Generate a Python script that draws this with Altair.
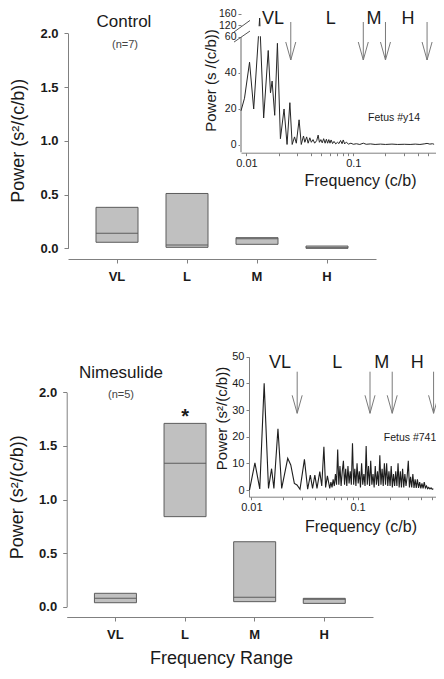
import altair as alt
import pandas as pd

FONT = "Liberation Sans"
INK = "#1a1a1a"
GRAY = "#808080"

# ---------------- data ----------------
categories = ["VL", "L", "M", "H"]
ctrl_q1 = [0.056, 0.009, 0.037, 0.000]
ctrl_med = [0.140, 0.030, 0.090, 0.005]
ctrl_q3 = [0.381, 0.510, 0.099, 0.021]
nime_q1 = [0.037, 0.840, 0.047, 0.031]
nime_med = [0.078, 1.337, 0.088, 0.069]
nime_q3 = [0.125, 1.710, 0.606, 0.078]

# Fetus #y14 spectrum (control inset)
top_freq = [0.0089, 0.0096, 0.0107, 0.0117, 0.0133, 0.0145, 0.0160, 0.0168, 0.0174, 0.0184,
            0.0195, 0.0208, 0.0225, 0.0240, 0.0255, 0.0268, 0.0282, 0.0293, 0.0311, 0.0326,
            0.0342, 0.0352, 0.0366, 0.0378, 0.0392, 0.0405, 0.0420, 0.0435, 0.0455, 0.0469,
            0.0482, 0.0497, 0.0512, 0.0528, 0.0545, 0.0560, 0.0575, 0.0590, 0.0605, 0.0620,
            0.0640, 0.0660, 0.0685, 0.0710, 0.0735, 0.0760, 0.0785, 0.0805, 0.0830, 0.0860,
            0.0900, 0.0950, 0.100, 0.107, 0.115, 0.124, 0.132, 0.145, 0.160, 0.180,
            0.200, 0.230, 0.260, 0.300, 0.340, 0.380, 0.420, 0.460, 0.490, 0.520,
            0.550, 0.570]
top_power = [19, 26, 46, 20, 146, 15, 52.5, 29, 35.5, 16.5,
             56.5, 3.5, 20, 0.3, 23.5, 0.3, 4.5, 1, 14, 0.3,
             5, 1.5, 4.5, 1, 4, 1.5, 3, 1, 2.5, 5.5,
             1.5, 3, 1.2, 3.5, 1, 3.2, 1, 3, 1, 2.8,
             0.8, 2, 0.6, 1.5, 0.8, 2.5, 0.7, 2.8, 0.6, 1.6,
             0.5, 1, 0.4, 0.7, 0.3, 1, 0.4, 0.6, 0.3, 0.5,
             0.3, 0.5, 0.3, 0.4, 0.3, 0.5, 0.3, 0.6, 0.9, 0.5,
             0.7, 0.4]

# Fetus #741 spectrum (nimesulide inset)
bot_freq = [0.0096, 0.0108, 0.0120, 0.0132, 0.0145, 0.0155, 0.0163, 0.0178, 0.0193, 0.0220,
            0.0235, 0.0254, 0.0269, 0.0287, 0.0316, 0.0339, 0.0359, 0.0377, 0.0396, 0.0415,
            0.0441, 0.0460, 0.0482, 0.0500, 0.0520,
            0.0547, 0.0561, 0.0575, 0.0589, 0.0604, 0.0619, 0.0634, 0.0650, 0.0666, 0.0683,
            0.0700, 0.0718, 0.0736, 0.0754, 0.0773, 0.0792, 0.0812, 0.0832, 0.0853, 0.0874,
            0.0896, 0.0919, 0.0942, 0.0965, 0.0989, 0.1014, 0.1039, 0.1065, 0.1092, 0.1119,
            0.1147, 0.1176, 0.1205, 0.1235, 0.1266, 0.1298, 0.1330, 0.1364, 0.1398, 0.1433,
            0.1468, 0.1505, 0.1543, 0.1581, 0.1621, 0.1661, 0.1703, 0.1745, 0.1789, 0.1834,
            0.1879, 0.1926, 0.1975, 0.2024, 0.2074, 0.2126, 0.2179, 0.2234, 0.2290, 0.2347,
            0.2406, 0.2466, 0.2528, 0.2591, 0.2656, 0.2722, 0.2790, 0.2860, 0.2931, 0.3005,
            0.3080, 0.3157, 0.3236, 0.3317, 0.3400, 0.3485, 0.3572, 0.3661, 0.3753, 0.3846,
            0.3943, 0.4041, 0.4142, 0.4246, 0.4352, 0.4461, 0.4572, 0.4687, 0.4804, 0.4924,
            0.5047, 0.5173]
bot_power = [0, 10.2, 0.4, 40, 0.6, 8, 0.6, 23, 0.6, 11.9,
             9.4, 2.5, 1.9, 0.3, 11.5, 0.3, 5.6, 0.6, 5.6, 0.6,
             6.9, 1.5, 16.2, 1, 5.3,
             0.6, 3, 1, 4, 1.5, 6, 2, 15.2, 2, 9,
             1.5, 7, 11, 2, 8, 1.5, 9, 2.5, 7, 2,
             17.5, 2, 8, 1.5, 10, 2.5, 7, 1, 10, 2,
             6, 1.5, 16.5, 2, 9, 1.5, 11, 2, 6, 1,
             9, 2, 7, 1.5, 13, 2, 8, 1.5, 10, 2,
             10, 1.5, 7, 1.5, 9, 1, 6, 1.5, 7, 1.5,
             10, 1, 7, 1, 8, 1, 6, 1.5, 5, 11,
             1, 5, 1, 6, 0.8, 4, 0.8, 4, 0.8, 3,
             0.6, 2.5, 0.6, 3, 0.8, 1.5, 0.5, 1, 0.4, 0.8,
             0.3, 0.5]

# frequency band boundaries (arrows) and band-label positions
top_arrows = [0.026, 0.124, 0.200, 0.490]
bot_arrows = [0.027, 0.131, 0.212, 0.520]
band_names = ["VL", "L", "M", "H"]
top_label_freq = [0.0177, 0.0614, 0.156, 0.325]
bot_label_freq = [0.0186, 0.0645, 0.169, 0.365]

log_ticks = [0.01, 0.02, 0.03, 0.04, 0.05, 0.06, 0.07, 0.08, 0.09,
             0.1, 0.2, 0.3, 0.4, 0.5, 0.6]

# broken y axis of the control inset: 0-60 linear, then 120-160 compressed
BREAK_LO = 60
BREAK_120 = 66.39
BREAK_160 = 72.78
UPPER_STEP = (BREAK_160 - BREAK_120) / 40

W, H = 428, 663

# ---------------- scales (pixel ranges inside one canvas) ----------------
sx_top = alt.Scale(type="band", domain=categories, range=[60, 368], paddingOuter=0.2, paddingInner=0)
sy_top = alt.Scale(domain=[0, 2], range=[240.3, 25.3], nice=False, zero=False)
sx_bot = alt.Scale(type="band", domain=categories, range=[58.7, 365], paddingOuter=0.2, paddingInner=0)
sy_bot = alt.Scale(domain=[0, 2], range=[598.7, 384.3], nice=False, zero=False)
sx_ti = alt.Scale(type="log", domain=[0.0089, 0.62], range=[233, 430], nice=False)
sy_ti = alt.Scale(domain=[-4.28, 73.5], range=[144.7, 4.7], nice=False, zero=False)
sx_bi = alt.Scale(type="log", domain=[0.0095, 0.62], range=[241, 433.7], nice=False)
sy_bi = alt.Scale(domain=[-2.5, 50], range=[488.7, 348.7], nice=False, zero=False)


def main_x_axis(offset, title=None):
    kw = dict(orient="bottom", offset=offset, labelAngle=0, labelFont=FONT, labelFontSize=13,
              labelFontWeight="bold", labelColor=INK, labelPadding=7, tickSize=4,
              tickColor=GRAY, domainColor=GRAY, grid=False, labelFlush=False)
    if title:
        kw.update(title=title, titleX=213, titleY=41, titleFont=FONT, titleFontSize=18,
                  titleFontWeight="normal", titleColor=INK, titleAlign="center",
                  titleBaseline="middle")
    else:
        kw.update(title=None)
    return alt.Axis(**kw)


def main_y_axis(offset, tx, ty):
    return alt.Axis(orient="left", offset=offset, values=[0, 0.5, 1, 1.5, 2], format=".1f",
                    labelFont=FONT, labelFontSize=13, labelFontWeight="bold", labelColor=INK,
                    labelPadding=6, tickSize=4, tickColor=GRAY, domainColor=GRAY, grid=False,
                    labelFlush=False, labelOverlap=False,
                    title="Power (s²/(c/b))", titleX=tx, titleY=ty, titleAngle=270,
                    titleFont=FONT, titleFontSize=18, titleFontWeight="normal",
                    titleColor=INK, titleAlign="center", titleBaseline="middle")


def inset_x_axis(offset, tx, ty):
    return alt.Axis(orient="bottom", offset=offset, values=log_ticks,
                    labelExpr="datum.value == 0.01 ? '0.01' : (datum.value == 0.1 ? '0.1' : '')",
                    labelFont=FONT, labelFontSize=11, labelColor=INK, labelPadding=2,
                    labelFlush=False, labelOverlap=False, tickSize=3, tickColor=GRAY,
                    domainColor=GRAY, grid=False, title="Frequency (c/b)", titleX=tx, titleY=ty,
                    titleFont=FONT, titleFontSize=16, titleFontWeight="normal", titleColor=INK,
                    titleAlign="center", titleBaseline="middle")


def inset_y_axis(offset, values, title, tx, ty, label_expr="datum.label", domain=True, lsize=11):
    return alt.Axis(orient="left", offset=offset, values=values, labelExpr=label_expr,
                    labelFont=FONT, labelFontSize=lsize, labelColor=INK, labelPadding=2,
                    labelFlush=False, labelOverlap=False, tickSize=3, tickColor=GRAY,
                    domain=domain, domainColor=GRAY, grid=False, title=title,
                    titleX=tx, titleY=ty, titleAngle=270, titleFont=FONT, titleFontSize=15,
                    titleFontWeight="normal", titleColor=INK, titleAlign="center",
                    titleBaseline="middle")


def text_label(text, x, y, size, color=INK, weight="normal"):
    return alt.Chart(pd.DataFrame({"t": [text]})).mark_text(
        font=FONT, fontSize=size, fontWeight=weight, color=color, align="center",
        baseline="middle").encode(text="t:N", x=alt.value(x), y=alt.value(y))


# ---------------- main box panels ----------------
def box_panel(q1, med, q3, sx, sy, xaxis, yaxis):
    df = pd.DataFrame({"cat": categories, "q1": q1, "med": med, "q3": q3})
    boxes = alt.Chart(df).mark_bar(size=42, fill="#c0c0c0", stroke="#5c5c5c", strokeWidth=1).encode(
        x=alt.X("cat:N", scale=sx, axis=xaxis),
        y=alt.Y("q1:Q", scale=sy, axis=yaxis),
        y2="q3:Q")
    meds = alt.Chart(df).mark_tick(size=42, thickness=1, color="#5c5c5c", opacity=1).encode(
        x=alt.X("cat:N", scale=sx, axis=None),
        y=alt.Y("med:Q", scale=sy, axis=None))
    return [boxes, meds]


top_layers = box_panel(ctrl_q1, ctrl_med, ctrl_q3, sx_top, sy_top,
                       main_x_axis(251 - H), main_y_axis(-60, -50, 132.3))
bot_layers = box_panel(nime_q1, nime_med, nime_q3, sx_bot, sy_bot,
                       main_x_axis(609 - H, "Frequency Range"), main_y_axis(-58.7, -48.7, 488.7))

star = alt.Chart(pd.DataFrame({"cat": ["L"], "v": [1.80], "t": ["*"]})).mark_text(
    font=FONT, fontSize=20, fontWeight="bold", color=INK, baseline="middle", dy=3).encode(
    x=alt.X("cat:N", scale=sx_bot, axis=None),
    y=alt.Y("v:Q", scale=sy_bot, axis=None),
    text="t:N")

titles = [
    text_label("Control", 116, 14, 17),
    text_label("(n=7)", 117, 37, 11, "#444444"),
    text_label("Nimesulide", 113, 365.3, 17),
    text_label("(n=5)", 113, 387, 11, "#444444"),
    text_label("Fetus #y14", 386, 110, 10.5),
    text_label("Fetus #741", 402, 430, 10.5),
]

# ---------------- inset: control (broken y axis) ----------------
ti_axis_line = alt.Chart(pd.DataFrame({"f": [0.0089], "a": [-4], "b": [BREAK_LO]})).mark_rule(
    color="#b4b4b4", strokeWidth=2).encode(
    x=alt.X("f:Q", scale=sx_ti, axis=inset_x_axis(144.7 - H, 352, 27.3)),
    y=alt.Y("a:Q", scale=sy_ti,
            axis=inset_y_axis(-233, [0, 20, 40, 60, BREAK_120, BREAK_160], "Power (s  /(c/b))",
                              -31, 72,
                              "datum.value > 70 ? '160' : (datum.value > 64 ? '120' : datum.label)",
                              domain=False, lsize=10.5)),
    y2="b:Q")

ti_line = alt.Chart(pd.DataFrame({"f": top_freq, "p": top_power})).transform_calculate(
    d=f"datum.p <= {BREAK_LO} ? datum.p : {BREAK_120} + (datum.p - 120) * {UPPER_STEP}").mark_line(
    color="#262626", strokeWidth=1).encode(
    x=alt.X("f:Q", scale=sx_ti, axis=None),
    y=alt.Y("d:Q", scale=sy_ti, axis=None))

ti_gap = alt.Chart(pd.DataFrame({"f0": [0.0089], "f1": [0.62], "a": [60.4], "b": [66.0]})).mark_rect(
    fill="white").encode(
    x=alt.X("f0:Q", scale=sx_ti, axis=None), x2="f1:Q",
    y=alt.Y("a:Q", scale=sy_ti, axis=None), y2="b:Q")

ti_breaks = alt.Chart(pd.DataFrame({"xa": [0.00766, 0.00766], "xb": [0.0108, 0.0108],
                                    "ya": [57.2, 62.8], "yb": [63.3, 69.2]})).mark_rule(
    color="#555555", strokeWidth=1).encode(
    x=alt.X("xa:Q", scale=sx_ti, axis=None), x2="xb:Q",
    y=alt.Y("ya:Q", scale=sy_ti, axis=None), y2="yb:Q")

ARROW_PATH = "M-0.556,-2L0,0L0.556,-2"


def arrows(freqs, sx, y_top, y_tip, label_freqs, y_lab):
    df = pd.DataFrame({"f": freqs})
    shaft = alt.Chart(df).mark_rule(color="#7a7a7a", strokeWidth=1).encode(
        x=alt.X("f:Q", scale=sx, axis=None), y=alt.value(y_top), y2=alt.value(y_tip))
    head = alt.Chart(df).mark_point(shape=ARROW_PATH, size=324, filled=False, color="#7a7a7a",
                                    strokeWidth=1, opacity=1).encode(
        x=alt.X("f:Q", scale=sx, axis=None), y=alt.value(y_tip))
    labs = alt.Chart(pd.DataFrame({"f": label_freqs, "n": band_names})).mark_text(
        font=FONT, fontSize=18, color=INK, baseline="middle").encode(
        x=alt.X("f:Q", scale=sx, axis=None), y=alt.value(y_lab), text="n:N")
    return [shaft, head, labs]


# ---------------- inset: nimesulide ----------------
bi_line = alt.Chart(pd.DataFrame({"f": bot_freq, "p": bot_power})).mark_line(
    color="#1e1e1e", strokeWidth=1.1).encode(
    x=alt.X("f:Q", scale=sx_bi, axis=inset_x_axis(488.7 - H, 352.5, 29.3)),
    y=alt.Y("p:Q", scale=sy_bi,
            axis=inset_y_axis(-241, [0, 10, 20, 30, 40, 50], "Power (s²/(c/b))", -27.5, 410)))

layers = (top_layers + bot_layers + [star] + titles
          + [ti_axis_line, ti_line, ti_gap, ti_breaks]
          + arrows(top_arrows, sx_ti, 14, 52, top_label_freq, 10.5)
          + [bi_line]
          + arrows(bot_arrows, sx_bi, 363.7, 405.3, bot_label_freq, 355.3))

chart = alt.layer(*layers).resolve_scale(x="independent", y="independent").properties(
    width=W, height=H, autosize=alt.AutoSizeParams(type="none"), padding=0,
    background="white").configure_view(stroke=None)

chart.save("out.html", embed_options={"renderer": "svg", "actions": False})
